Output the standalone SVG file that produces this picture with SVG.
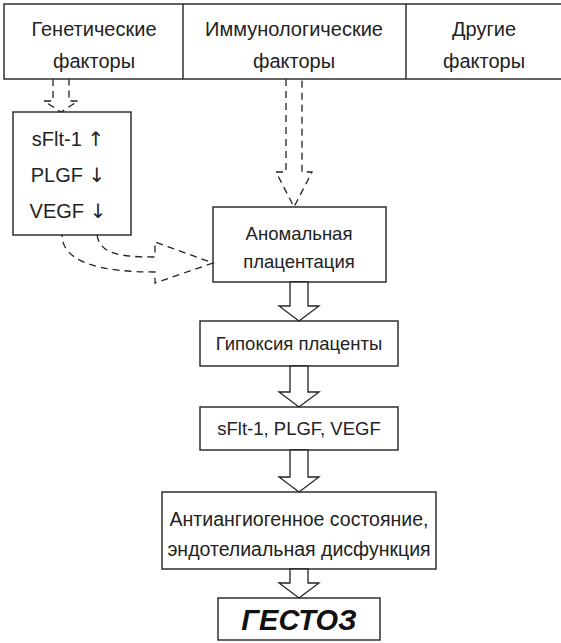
<svg xmlns="http://www.w3.org/2000/svg" width="561" height="643" viewBox="0 0 561 643">
<style>
.box{fill:#fff;stroke:#222;stroke-width:1.4}
.t{font-family:"Liberation Sans","Open Sans",sans-serif;font-size:18.5px;fill:#222;text-anchor:middle}
.big{font-size:20px}
.ar{font-family:"DejaVu Sans",sans-serif;fill:#222}
.blk{fill:#fff;stroke:#222;stroke-width:1.3;stroke-linejoin:miter}
.dash{fill:none;stroke:#222;stroke-width:1.3;stroke-dasharray:7 5}
</style>
<rect width="561" height="643" fill="#fff"/>
<g id="factors">
<rect class="box" x="4" y="4" width="560" height="75"/>
<line class="box" x1="183" y1="4" x2="183" y2="79"/>
<line class="box" x1="406" y1="4" x2="406" y2="79"/>
<text class="t big" x="94" y="36">Генетические</text>
<text class="t big" x="94" y="68">факторы</text>
<text class="t big" x="294" y="36">Иммунологические</text>
<text class="t big" x="294" y="68">факторы</text>
<text class="t big" x="484" y="36">Другие</text>
<text class="t big" x="484" y="68">факторы</text>
</g>
<g id="markers">
<rect class="box" x="13" y="112" width="118" height="123"/>
<text class="t big" x="68" y="146">sFlt-1 <tspan class="ar">↑</tspan></text>
<text class="t big" x="68" y="182">PLGF <tspan class="ar">↓</tspan></text>
<text class="t big" x="68" y="218">VEGF <tspan class="ar">↓</tspan></text>
</g>
<g id="abnormal">
<rect class="box" x="213" y="207" width="173" height="75"/>
<text class="t" x="299" y="240">Аномальная</text>
<text class="t" x="299" y="268">плацентация</text>
</g>
<g id="hypoxia">
<rect class="box" x="200" y="321" width="198" height="45"/>
<text class="t" x="299" y="350">Гипоксия плаценты</text>
</g>
<g id="factors2">
<rect class="box" x="200" y="407" width="198" height="43"/>
<text class="t" x="299" y="435">sFlt-1, PLGF, VEGF</text>
</g>
<g id="antiangio">
<rect class="box" x="162" y="492" width="274" height="77"/>
<text class="t" x="299" y="526" style="font-size:19.5px">Антиангиогенное состояние,</text>
<text class="t" x="299" y="556" style="font-size:19.5px">эндотелиальная дисфункция</text>
</g>
<g id="gestoz">
<rect class="box" x="218" y="598" width="162" height="42"/>
<text x="299" y="630" style="font-family:'Liberation Sans',Arial,sans-serif;font-size:29px;font-weight:bold;font-style:italic;fill:#111;text-anchor:middle">ГЕСТОЗ</text>
</g>
<g id="connectors">
<path class="dash" d="M53,79 V101 H44 L61,112 L78,101 H69 V79"/>
<path class="dash" d="M286,79 V172 H276 L294,207 L312,172 H302 V79"/>
<path class="dash" d="M97,235 C100,254 120,257 155,257 V242 L213,263 L155,283 V272 C100,272 62,262 62,235"/>
<path class="blk" d="M290,282 V306 H279 L299,321 L319,306 H308 V282 Z"/>
<path class="blk" d="M290,366 V392 H279 L299,407 L319,392 H308 V366 Z"/>
<path class="blk" d="M290,450 V477 H279 L299,492 L319,477 H308 V450 Z"/>
<path class="blk" d="M290,569 V583 H279 L299,598 L319,583 H308 V569 Z"/>
</g>
</svg>
